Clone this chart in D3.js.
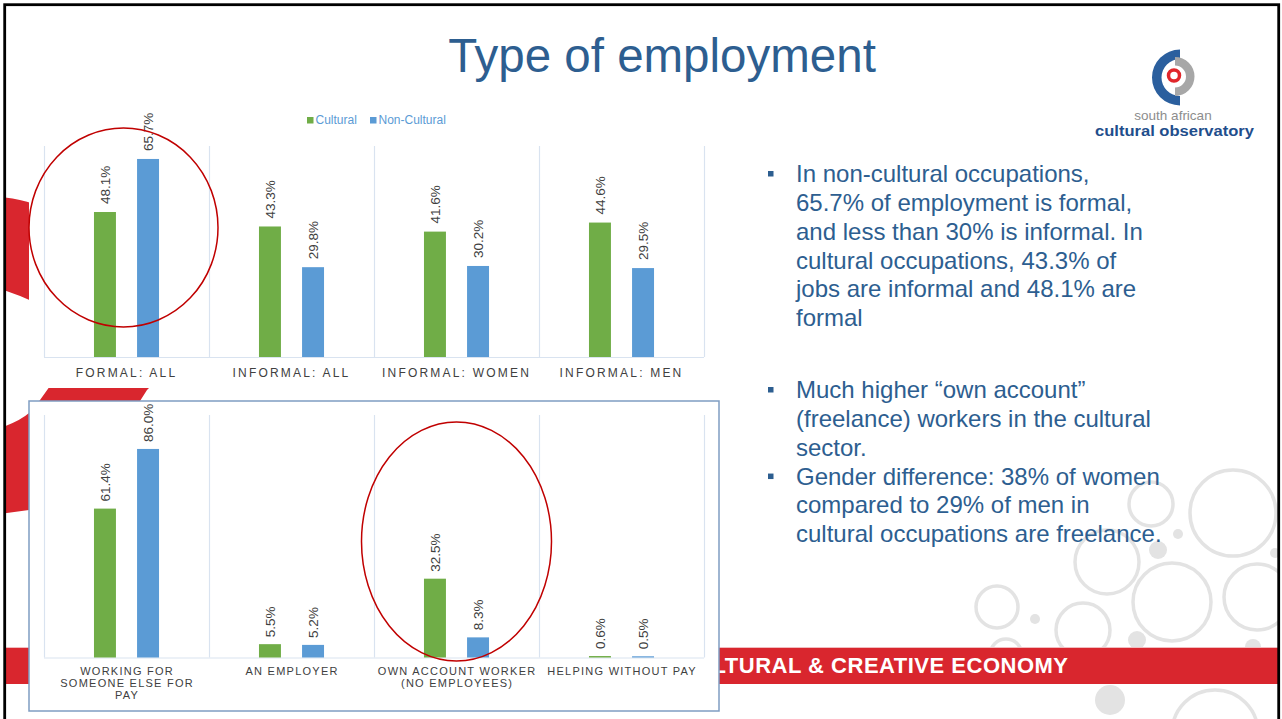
<!DOCTYPE html>
<html>
<head>
<meta charset="utf-8">
<script src="https://cdn.jsdelivr.net/npm/d3@7"></script>
<style>
  html, body { margin: 0; padding: 0; background: #ffffff; overflow: hidden; }
  svg { display: block; font-family: "Liberation Sans", Arial, sans-serif; }
</style>
</head>
<body>
<svg id="slide" width="1282" height="719"></svg>
<script>
// ---- data ----
const seriesNames = ["Cultural", "Non-Cultural"];
const seriesColors = ["#70ad47", "#5b9bd5"];

const topCategories = ["FORMAL: ALL", "INFORMAL: ALL", "INFORMAL: WOMEN", "INFORMAL: MEN"];
const topCultural = [48.1, 43.3, 41.6, 44.6];
const topNonCultural = [65.7, 29.8, 30.2, 29.5];

const bottomCategories = ["WORKING FOR SOMEONE ELSE FOR PAY", "AN EMPLOYER", "OWN ACCOUNT WORKER (NO EMPLOYEES)", "HELPING WITHOUT PAY"];
const bottomCategoryLines = [["WORKING FOR", "SOMEONE ELSE FOR", "PAY"], ["AN EMPLOYER"], ["OWN ACCOUNT WORKER", "(NO EMPLOYEES)"], ["HELPING WITHOUT PAY"]];
const bottomCultural = [61.4, 5.5, 32.5, 0.6];
const bottomNonCultural = [86.0, 5.2, 8.3, 0.5];

const titleText = "Type of employment";
const footerText = "CULTURAL & CREATIVE ECONOMY";
const bulletGroups = [
  [["In non-cultural occupations,", "65.7% of employment is formal,", "and less than 30% is informal. In", "cultural occupations, 43.3% of", "jobs are informal and 48.1% are", "formal"]],
  [["Much higher \u201cown account\u201d", "(freelance) workers in the cultural", "sector."],
   ["Gender difference: 38% of women", "compared to 29% of men in", "cultural occupations are freelance."]]
];

// ---- drawing ----
const svg = d3.select("#slide");
const textBlue = "#2d5e90";
const labelGrey = "#404040";
const gridColor = "#d9e3f0";

svg.append("defs").append("clipPath").attr("id", "slideClip")
  .append("rect").attr("x", 5).attr("y", 5).attr("width", 1273).attr("height", 714);

const bg = svg.append("g").attr("clip-path", "url(#slideClip)");

// decorative bubbles on the right
const bubbleRings = [[1151, 504, 22], [1233, 513, 43], [1107, 562, 32], [1172, 602, 39], [1257, 597, 33],
                     [997, 607, 21], [1083, 630, 27], [1006, 655, 16], [1215, 733, 43]];
const bubbleDots = [[1178, 534, 5], [1158, 550, 9], [1275, 553, 5], [1035, 619, 5], [1137, 640, 9],
                    [1253, 647, 8], [1110, 700, 15]];
bg.selectAll("circle.ring").data(bubbleRings).join("circle")
  .attr("class", "ring").attr("cx", d => d[0]).attr("cy", d => d[1]).attr("r", d => d[2])
  .attr("fill", "none").attr("stroke", "#e3e3e3").attr("stroke-width", 3.5);
bg.selectAll("circle.dot").data(bubbleDots).join("circle")
  .attr("class", "dot").attr("cx", d => d[0]).attr("cy", d => d[1]).attr("r", d => d[2])
  .attr("fill", "#e3e3e3");

// red swooshes on the left edge
const swooshRed = "#d9262e";
bg.append("path").attr("fill", swooshRed)
  .attr("d", "M0,197 Q18,198 34,204 L34,302 Q16,294 0,289 Z");
bg.append("path").attr("fill", swooshRed)
  .attr("d", "M0,428 Q20,421 29,413 Q35,407 40,400 L60,372 L165,372 L147,390 L140,401 L100,470 Q60,505 29,510 L0,514 Z");

// footer band
bg.append("rect").attr("x", 0).attr("y", 647).attr("width", 1282).attr("height", 37).attr("fill", swooshRed);
bg.append("line").attr("x1", 0).attr("x2", 1282).attr("y1", 647.5).attr("y2", 647.5)
  .attr("stroke", "#f1bcbf").attr("stroke-width", 1);
bg.append("text").attr("x", 1068.5).attr("y", 673).attr("text-anchor", "end")
  .attr("fill", "#ffffff").attr("font-weight", "bold").attr("font-size", 22)
  .style("letter-spacing", "0.5px").text(footerText);

// chart backgrounds
svg.append("rect").attr("x", 29).attr("y", 96).attr("width", 690).attr("height", 292).attr("fill", "#ffffff");
svg.append("rect").attr("x", 29).attr("y", 401).attr("width", 690).attr("height", 310)
  .attr("fill", "#ffffff").attr("stroke", "#7f9dc2").attr("stroke-width", 1.5);

function drawChart(cfg) {
  const g = svg.append("g");
  const x = d3.scaleBand().domain(cfg.categories).range([44, 704]);
  const xs = d3.scaleBand().domain(seriesNames).range([0, x.bandwidth()]).paddingInner(0.49).paddingOuter(1.16);
  const y = d3.scaleLinear().domain([0, cfg.yMax]).range(cfg.yRange);

  // category separators
  const bounds = cfg.categories.map(c => x(c)).concat([x.range()[1]]);
  g.selectAll("line.sep").data(bounds).join("line")
    .attr("x1", d => d + 0.5).attr("x2", d => d + 0.5)
    .attr("y1", y(0)).attr("y2", y(cfg.yMax))
    .attr("stroke", gridColor).attr("stroke-width", 1.2);
  g.append("line").attr("x1", x.range()[0]).attr("x2", x.range()[1])
    .attr("y1", y(0) + 0.5).attr("y2", y(0) + 0.5).attr("stroke", gridColor).attr("stroke-width", 1.2);

  const rows = [];
  cfg.categories.forEach((c, i) => {
    rows.push({ cat: c, s: seriesNames[0], v: cfg.series[0][i], color: seriesColors[0] });
    rows.push({ cat: c, s: seriesNames[1], v: cfg.series[1][i], color: seriesColors[1] });
  });

  g.selectAll("rect.bar").data(rows).join("rect")
    .attr("class", "bar")
    .attr("x", d => x(d.cat) + xs(d.s)).attr("width", xs.bandwidth())
    .attr("y", d => y(d.v)).attr("height", d => y(0) - y(d.v))
    .attr("fill", d => d.color);

  g.selectAll("text.val").data(rows).join("text")
    .attr("class", "val")
    .attr("transform", d => `translate(${x(d.cat) + xs(d.s) + xs.bandwidth() / 2},${y(d.v) - cfg.labelGap}) rotate(-90)`)
    .attr("dy", "0.36em").attr("text-anchor", "start")
    .attr("font-size", 13.5).attr("fill", labelGrey)
    .text(d => d.v.toFixed(1) + "%");

  const axis = g.append("g").attr("transform", `translate(0,${y(0)})`)
    .call(d3.axisBottom(x).tickSize(0).tickPadding(cfg.tickPadding));
  axis.select(".domain").remove();
  axis.selectAll("text")
    .attr("font-family", "\"Liberation Sans\", Arial, sans-serif")
    .attr("font-size", cfg.tickFont).attr("fill", labelGrey)
    .style("letter-spacing", cfg.letterSpacing + "px");
  if (cfg.lines) {
    axis.selectAll(".tick text").each(function (d) {
      const lines = cfg.lines[cfg.categories.indexOf(d)];
      const t = d3.select(this).text(null);
      lines.forEach((ln, k) => {
        t.append("tspan").attr("x", cfg.letterSpacing / 2).attr("dy", k === 0 ? "0.71em" : "1.12em").text(ln);
      });
    });
  }
  return { x, y };
}

const topChart = drawChart({
  categories: topCategories, series: [topCultural, topNonCultural],
  yMax: 70, yRange: [357, 146], labelGap: 8, tickPadding: 11.5, tickFont: 12, letterSpacing: 2.2
});
const bottomChart = drawChart({
  categories: bottomCategories, series: [bottomCultural, bottomNonCultural],
  yMax: 100, yRange: [657.5, 415], labelGap: 7, tickPadding: 9.5, tickFont: 11, letterSpacing: 1.25,
  lines: bottomCategoryLines
});

// legend
const legendX = [307, 370];
const legend = svg.append("g");
seriesNames.forEach((name, i) => {
  legend.append("rect").attr("x", legendX[i]).attr("y", 117).attr("width", 6.5).attr("height", 6.5).attr("fill", seriesColors[i]);
  legend.append("text").attr("x", legendX[i] + 8.5).attr("y", 124.3).attr("font-size", 12)
    .attr("fill", "#5b9bd5").text(name);
});

// highlight ellipses
const ringRed = "#c00000";
svg.append("ellipse")
  .attr("cx", topChart.x(topCategories[0]) + topChart.x.bandwidth() / 2 - 3).attr("cy", 227.5)
  .attr("rx", 94.5).attr("ry", 99.5)
  .attr("fill", "none").attr("stroke", ringRed).attr("stroke-width", 1.5);
svg.append("ellipse")
  .attr("cx", bottomChart.x(bottomCategories[2]) + bottomChart.x.bandwidth() / 2).attr("cy", 541.5)
  .attr("rx", 95).attr("ry", 119.5)
  .attr("fill", "none").attr("stroke", ringRed).attr("stroke-width", 1.5);

// title
svg.append("text").attr("x", 662).attr("y", 72).attr("text-anchor", "middle")
  .attr("font-size", 47.5).attr("fill", textBlue).text(titleText);

// logo
const arc = d3.arc();
const logo = svg.append("g");
logo.append("path").attr("transform", "translate(1180,77.5)").attr("fill", "#2b5f9e")
  .attr("d", arc({ innerRadius: 18.5, outerRadius: 28, startAngle: Math.PI, endAngle: 2 * Math.PI }));
logo.append("path").attr("transform", "translate(1175,76.5)").attr("fill", "#a7a7a7")
  .attr("d", arc({ innerRadius: 11, outerRadius: 19.5, startAngle: 0, endAngle: Math.PI }));
logo.append("circle").attr("cx", 1174).attr("cy", 75.5).attr("r", 5.5)
  .attr("fill", "none").attr("stroke", "#e1262b").attr("stroke-width", 3.5);
logo.append("text").attr("x", 1173).attr("y", 120).attr("text-anchor", "middle")
  .attr("font-size", 13.5).attr("fill", "#8d8d8d").text("south african");
logo.append("text").attr("x", 1095).attr("y", 136).attr("font-size", 14.5).attr("font-weight", "bold")
  .attr("fill", "#1f4e8c").attr("textLength", 159).attr("lengthAdjust", "spacingAndGlyphs")
  .text("cultural observatory");

// bullet text
const bulletTop = [182, 398];
const lineStep = 28.85;
const bullets = svg.append("g").attr("font-size", 24).attr("fill", textBlue);
bulletGroups.forEach((group, gi) => {
  let base = bulletTop[gi];
  group.forEach(lines => {
    bullets.append("rect").attr("x", 768).attr("y", base - 11).attr("width", 5.5).attr("height", 5.5).attr("fill", textBlue);
    lines.forEach((ln, k) => {
      bullets.append("text").attr("x", 796).attr("y", base + k * lineStep).text(ln);
    });
    base += lines.length * lineStep;
  });
});

// slide frame
svg.append("rect").attr("x", 4.7).attr("y", 4.7).attr("width", 1274).attr("height", 760)
  .attr("fill", "none").attr("stroke", "#000000").attr("stroke-width", 2.8);
</script>
</body>
</html>
